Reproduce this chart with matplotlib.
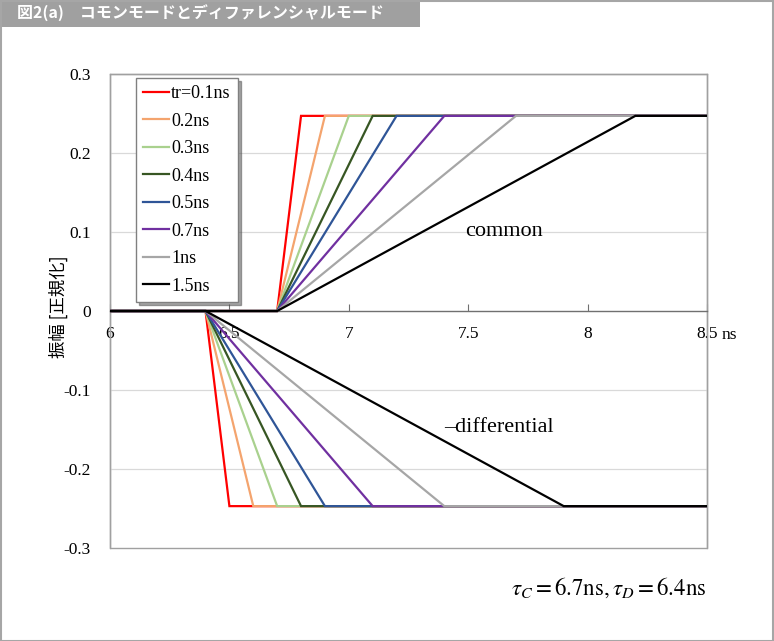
import matplotlib
matplotlib.use("Agg")
import matplotlib.pyplot as plt
from matplotlib.patches import Rectangle
import numpy as np

# ---- data ----
rise_times = [0.1, 0.2, 0.3, 0.4, 0.5, 0.7, 1.0, 1.5]
labels = ["tr=0.1ns", "0.2ns", "0.3ns", "0.4ns", "0.5ns", "0.7ns", "1ns", "1.5ns"]
colors = ["#FF0000", "#F4A46E", "#A9D18E", "#375623", "#2F5597", "#7030A0", "#A6A6A6", "#000000"]
tau_c = 6.7
tau_d = 6.4
amp = 0.247
t_start = 6.0
t_end = 8.5
xticks = [6, 6.5, 7, 7.5, 8, 8.5]
xticklabels = ["6", "6.5", "7", "7.5", "8", "8.5"]
yticks = [-0.3, -0.2, -0.1, 0, 0.1, 0.2, 0.3]
yticklabels = ["-0.3", "-0.2", "-0.1", "0", "0.1", "0.2", "0.3"]

serif = "Liberation Serif"
plt.rcParams["font.family"] = [serif, "Noto Sans CJK JP", "DejaVu Sans"]
plt.rcParams["mathtext.fontset"] = "stix"

fig = plt.figure(figsize=(7.74, 6.41), dpi=100)
ax = fig.add_axes([110/774, 1-548/641, 597/774, 474/641])

for tr, lab, c in zip(rise_times, labels, colors):
    # common mode (rising)
    xc = [t_start, tau_c, tau_c + tr, t_end]
    yc = [0, 0, amp, amp]
    ax.plot(xc, yc, color=c, lw=1.6, label=lab, zorder=3, solid_joinstyle="miter")
    # differential (falling)
    xd = [t_start, tau_d, tau_d + tr, t_end]
    yd = [0, 0, -amp, -amp]
    ax.plot(xd, yd, color=c, lw=1.6, zorder=3, solid_joinstyle="miter")

ax.set_xlim(6, 8.5)
ax.set_ylim(-0.3, 0.3)

ax.tick_params(axis="y", length=0, pad=14, labelsize=12.5, labelfontfamily=serif)
ax.tick_params(axis="x", direction="in", length=5, color="#707070", pad=11,
               labelsize=12.5, labelfontfamily=serif)

ax.set_yticks(yticks)
ax.set_yticklabels(yticklabels)
ax.set_xticks(xticks)
ax.set_xticklabels(xticklabels)

for y in [-0.2, -0.1, 0.1, 0.2]:
    ax.axhline(y, color="#D9D9D9", lw=0.9, zorder=1)

for s in ["top", "right", "left"]:
    ax.spines[s].set_color("#A0A0A0")
    ax.spines[s].set_linewidth(1.0)
ax.spines["bottom"].set_position(("data", 0))
ax.spines["bottom"].set_color("#707070")
ax.spines["bottom"].set_linewidth(1.0)
ax.add_patch(Rectangle((0, 0), 1, 1, transform=ax.transAxes, fill=False,
                       edgecolor="#A0A0A0", lw=1.0, zorder=0.5, clip_on=False))
ax.xaxis.set_zorder(2)

ax.annotate("ns", xy=(8.5, 0), xytext=(10.5, -17.5), textcoords="offset points",
            ha="left", va="center", fontsize=12.5, fontfamily=serif)

ax.text(7.65, 0.1, "common", ha="center", va="center", fontsize=16, fontfamily=serif)
ax.text(7.63, -0.148, "\u2013differential", ha="center", va="center", fontsize=16,
        fontfamily=serif)

ax.set_ylabel("振幅 [正規化]", fontfamily=["Noto Sans CJK JP", "DejaVu Sans"], fontsize=12.5)
ax.yaxis.set_label_coords(-0.07, 0.51)

leg = ax.legend(loc="upper left", bbox_to_anchor=(26/597, 1-4/474), borderaxespad=0,
                prop={"family": serif, "size": 13}, frameon=True, fancybox=False,
                shadow=True, edgecolor="#808080", handlelength=1.45,
                handletextpad=0.1, labelspacing=0.58, borderpad=0.4)
leg.get_frame().set_linewidth(1.0)
leg.set_zorder(5)

fig.text(706/774, 1-588/641, r"$\tau_C = 6.7\mathrm{ns}, \tau_D = 6.4\mathrm{ns}$",
         ha="right", va="center", fontsize=16.5)

# title bar
fig.patches.append(Rectangle((0, 1-27/641), 420/774, 27/641, transform=fig.transFigure,
                             facecolor="#A0A0A0", edgecolor="none", zorder=0))
fig.text(17/774, 1-13.5/641, "図2(a)　コモンモードとディファレンシャルモード",
         fontfamily=["Noto Sans CJK JP", "DejaVu Sans"], fontweight="bold",
         color="white", fontsize=11.5, ha="left", va="center")
# figure border
fig.patches.append(Rectangle((0.5/774, 0.5/641), 1-1.5/774, 1-1.5/641, transform=fig.transFigure,
                             facecolor="none", edgecolor="#A6A6A6", lw=1.5, zorder=0))

fig.savefig("out.png", dpi=100)
